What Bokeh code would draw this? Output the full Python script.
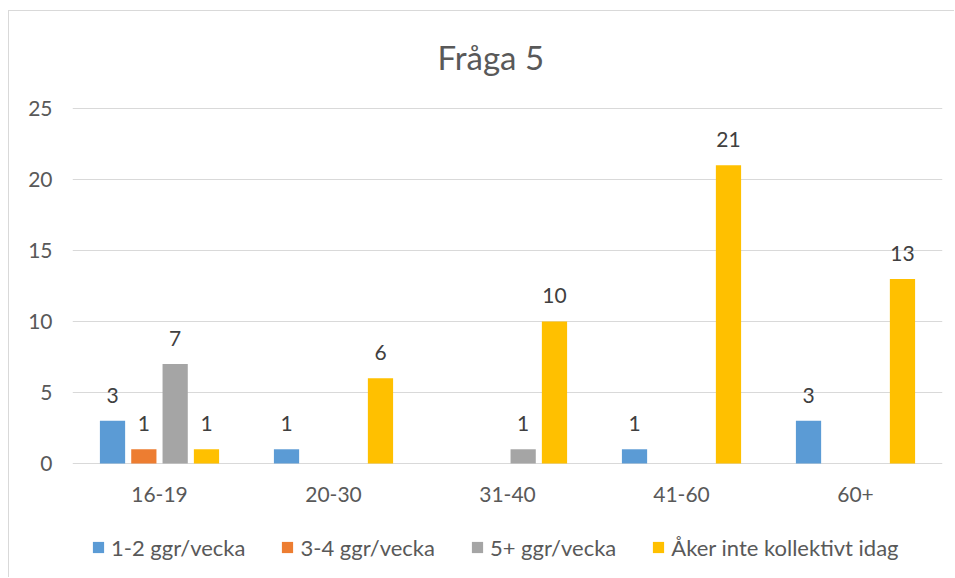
from bokeh.plotting import figure
from bokeh.models import (ColumnDataSource, FactorRange, Range1d, Legend, LegendItem,
                          LabelSet, FixedTicker)
from bokeh.core.properties import value
from bokeh.transform import dodge
from bokeh.embed import file_html
from bokeh.resources import INLINE

categories = ["16-19", "20-30", "31-40", "41-60", "60+"]
series_names = ["1-2 ggr/vecka", "3-4 ggr/vecka", "5+ ggr/vecka", "Åker inte kollektivt idag"]
s_1_2 = [3, 1, None, 1, 3]
s_3_4 = [1, None, None, None, None]
s_5plus = [7, None, 1, None, None]
s_aker_inte = [1, 6, 10, 21, 13]
y_ticks = [0, 5, 10, 15, 20, 25]

colors = ["#5B9BD5", "#ED7D31", "#A5A5A5", "#FFC000"]
offsets = [-0.27, -0.09, 0.09, 0.27]
FONT = "Lato"
TXT = "#595959"

# frame extends below the zero line so the category labels and legend can sit inside it
p = figure(x_range=FactorRange(*categories), y_range=Range1d(-7.89, 25.07),
           width=954, height=577, output_backend="svg", toolbar_location=None,
           min_border_left=72, min_border_right=12, min_border_top=107, min_border_bottom=2)
p.border_fill_color = None
p.styles = {
    "background": "linear-gradient(#d9d9d9,#d9d9d9) 8px 10px / 1px 100% no-repeat, "
                  "linear-gradient(#d9d9d9,#d9d9d9) 8px 10px / 100% 1px no-repeat, #ffffff",
}

p.title.text = "Fråga 5"
p.title.text_font = FONT
p.title.text_font_size = "33px"
p.title.text_font_style = "normal"
p.title.text_color = TXT
p.title.align = "left"
p.title.offset = 365
p.title.standoff = 62

p.outline_line_color = None
p.xgrid.grid_line_color = None
p.ygrid.grid_line_color = "#d9d9d9"
p.ygrid.grid_line_width = 1
p.yaxis.ticker = FixedTicker(ticks=y_ticks)
p.yaxis.axis_line_color = None
p.yaxis.major_tick_line_color = None
p.yaxis.minor_tick_line_color = None
p.yaxis.major_label_text_font = FONT
p.yaxis.major_label_text_font_size = "21px"
p.yaxis.major_label_text_color = TXT
p.yaxis.major_label_standoff = 14
p.xaxis.visible = False

# category labels under the zero line
cat_src = ColumnDataSource(dict(cat=categories, zero=[0] * len(categories)))
p.add_layout(LabelSet(x="cat", y="zero", text="cat", source=cat_src, y_offset=-31,
                      text_align="center", text_baseline="middle",
                      text_font=value(FONT), text_font_size=value("21px"),
                      text_color=value(TXT)))

all_series = [s_1_2, s_3_4, s_5plus, s_aker_inte]
items = []
for name, vals, col, off in zip(series_names, all_series, colors, offsets):
    cats = [c for c, v in zip(categories, vals) if v is not None]
    ys = [v for v in vals if v is not None]
    src = ColumnDataSource(dict(cat=cats, val=ys, lbl=[str(v) for v in ys]))
    r = p.vbar(x=dodge("cat", off, range=p.x_range), top="val", width=0.145, bottom=0,
               source=src, fill_color=col, line_color=None)
    items.append(LegendItem(label=name, renderers=[r]))
    p.add_layout(LabelSet(x=dodge("cat", off, range=p.x_range), y="val", text="lbl",
                          source=src, y_offset=18, text_align="center", text_baseline="bottom",
                          text_font=value(FONT), text_font_size=value("21px"),
                          text_color=value("#404040")))

legend = Legend(items=items, orientation="horizontal", location=(19, 14),
                label_text_font=FONT, label_text_font_size="22px", label_text_color=TXT,
                glyph_width=14, glyph_height=14, label_standoff=6, spacing=35,
                label_height=28, border_line_color=None, background_fill_alpha=0,
                margin=0, padding=2)
p.add_layout(legend, "center")

open("out.html", "w").write(file_html(p, INLINE))
